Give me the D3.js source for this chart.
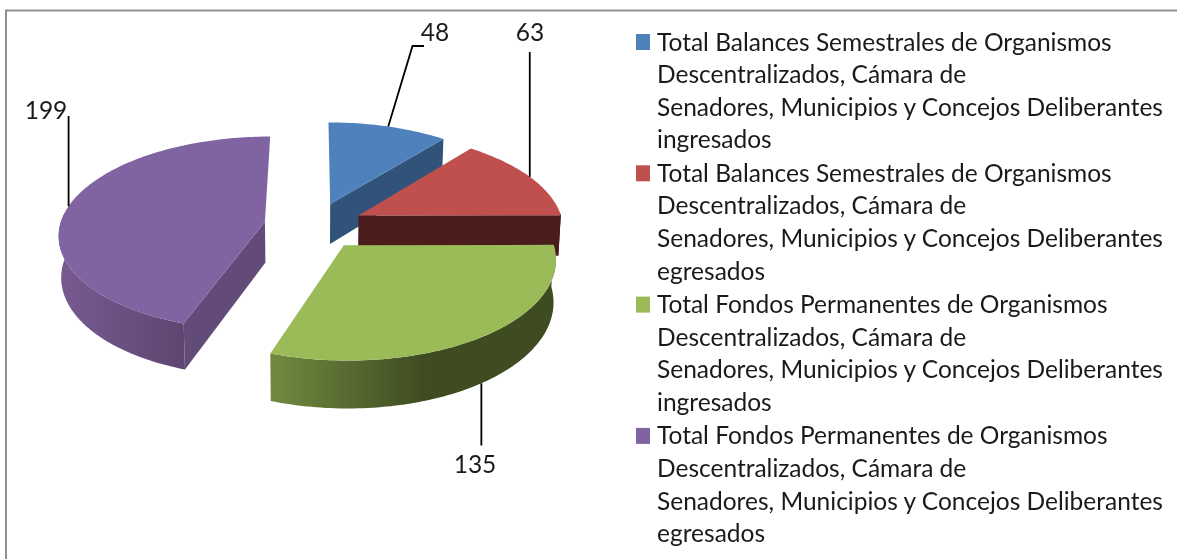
<!DOCTYPE html>
<html lang="es">
  <head>
    <meta charset="UTF-8" />
    <title>Balances y Fondos Permanentes</title>
    <script src="https://cdn.jsdelivr.net/npm/d3@7"></script>
    <style>
      html, body { margin: 0; padding: 0; background: #fff; overflow: hidden; }
      svg { filter: blur(0.4px); }
      text { font-family: Lato, "Open Sans", sans-serif; fill: #1a1a1a; }
    </style>
  </head>
  <body>
    <div id="chart"></div>
    <script>
      // datos
      const values = [48, 63, 135, 199];
      const legendLines = [
        ["Total Balances Semestrales de Organismos", "Descentralizados, Cámara de", "Senadores, Municipios y Concejos Deliberantes", "ingresados"],
        ["Total Balances Semestrales de Organismos", "Descentralizados, Cámara de", "Senadores, Municipios y Concejos Deliberantes", "egresados"],
        ["Total Fondos Permanentes de Organismos", "Descentralizados, Cámara de", "Senadores, Municipios y Concejos Deliberantes", "ingresados"],
        ["Total Fondos Permanentes de Organismos", "Descentralizados, Cámara de", "Senadores, Municipios y Concejos Deliberantes", "egresados"]
      ];
      const topColors = ["#4f81bd", "#c0504d", "#9bbb59", "#8064a2"];
      const cutColors = ["#31537a", "#4a1c1c", null, "#624b78"];

      const width = 1177, height = 559;
      const cx = 314, cy = 225.6;
      const radius = 205, explode = 50, depth = 41;
      const tilt = 0.47, focal = 1700;

      const svg = d3.select("#chart").append("svg")
        .attr("width", width)
        .attr("height", height);

      const defs = svg.append("defs");
      function addGradient(id, x1, x2, c1, c2) {
        const g = defs.append("linearGradient")
          .attr("id", id)
          .attr("gradientUnits", "userSpaceOnUse")
          .attr("x1", x1).attr("x2", x2).attr("y1", 0).attr("y2", 0);
        g.append("stop").attr("offset", 0).attr("stop-color", c1);
        g.append("stop").attr("offset", 1).attr("stop-color", c2);
      }
      addGradient("wall-green", 272, 425, "#6f8a40", "#3f4b21");
      addGradient("wall-purple", 70, 184, "#75598f", "#5d4670");
      const wallFills = [null, "#4a1c1c", "url(#wall-green)", "url(#wall-purple)"];

      // marco
      svg.append("rect")
        .attr("x", 6).attr("y", 10.5)
        .attr("width", 1300).attr("height", 600)
        .attr("fill", "#fff")
        .attr("stroke", "#8f8f8f")
        .attr("stroke-width", 2);

      const slices = d3.pie().sort(null).startAngle(0).endAngle(2 * Math.PI)(values);
      const line = d3.line();

      // plano de la torta -> pantalla, con algo de perspectiva
      function planePoint(d, a, r) {
        const mid = (d.startAngle + d.endAngle) / 2;
        return [
          explode * Math.sin(mid) + r * Math.sin(a),
          -explode * Math.cos(mid) - r * Math.cos(a)
        ];
      }
      function topPoint(d, a, r) {
        const [u, v] = planePoint(d, a, r);
        const p = 1 / (1 - v / focal);
        return [cx + u * p, cy + v * tilt * p];
      }
      function bottomPoint(d, a, r) {
        const [u, v] = planePoint(d, a, r);
        const p = 1 / (1 - v / focal);
        return [cx + u * p * 0.99, cy + v * tilt * p + depth * p];
      }
      function arcAngles(a0, a1) {
        const n = Math.max(2, Math.ceil((a1 - a0) / 0.02));
        return d3.range(n + 1).map(i => a0 + (a1 - a0) * i / n);
      }

      const slice = svg.append("g").selectAll("g")
        .data([0, 1, 3, 2].map(i => ({ d: slices[i], i: i })))
        .join("g");

      // cara del corte
      slice.filter(s => cutColors[s.i])
        .append("path")
        .attr("fill", s => cutColors[s.i])
        .attr("d", s => {
          const a = s.i === 3 ? s.d.startAngle : s.d.endAngle;
          return line([topPoint(s.d, a, 0), topPoint(s.d, a, radius), bottomPoint(s.d, a, radius), bottomPoint(s.d, a, 0)]) + "Z";
        });

      // pared curva del frente
      slice.filter(s => wallFills[s.i])
        .append("path")
        .attr("fill", s => wallFills[s.i])
        .attr("d", s => {
          const a0 = Math.max(s.d.startAngle, Math.PI * 0.49);
          const a1 = Math.min(s.d.endAngle, Math.PI * 1.53);
          const angles = arcAngles(a0, a1);
          return line(angles.map(a => topPoint(s.d, a, radius))
            .concat(angles.slice().reverse().map(a => bottomPoint(s.d, a, radius)))) + "Z";
        });

      // cara superior
      slice.append("path")
        .attr("fill", s => topColors[s.i])
        .attr("d", s => line([topPoint(s.d, s.d.startAngle, 0)]
          .concat(arcAngles(s.d.startAngle, s.d.endAngle).map(a => topPoint(s.d, a, radius)))) + "Z");

      // lineas guia y etiquetas
      const leaders = slices.map((d, i) => {
        const mid = (d.startAngle + d.endAngle) / 2;
        return i === 2 ? bottomPoint(d, mid, radius) : topPoint(d, mid, radius);
      });
      const leaderEnds = [[[412.5, 46], [424, 46]], [[null, 52]], [[null, 445.5]], [[null, 116]]];
      const labelPos = [[435, 32], [530, 32], [475, 464], [46, 110]];

      svg.append("g").selectAll("path")
        .data(slices)
        .join("path")
        .attr("fill", "none")
        .attr("stroke", "#000")
        .attr("stroke-width", 1.8)
        .attr("d", (d, i) => line([leaders[i]].concat(leaderEnds[i].map(p => [p[0] === null ? leaders[i][0] : p[0], p[1]]))));

      svg.append("g").selectAll("text")
        .data(values)
        .join("text")
        .attr("x", (d, i) => labelPos[i][0])
        .attr("y", (d, i) => labelPos[i][1])
        .attr("dy", "0.35em")
        .attr("text-anchor", "middle")
        .attr("font-size", 24.5)
        .text(d => d);

      // leyenda
      const legend = svg.append("g").selectAll("g")
        .data(legendLines)
        .join("g")
        .attr("transform", (d, i) => `translate(0,${42 + i * 131.3})`);

      legend.append("rect")
        .attr("x", 636).attr("y", -8)
        .attr("width", 14).attr("height", 16)
        .attr("fill", (d, i) => topColors[i]);

      legend.selectAll("text")
        .data(d => d)
        .join("text")
        .attr("x", 657)
        .attr("y", (d, j) => j * 32.6)
        .attr("dy", "0.35em")
        .attr("font-size", 24.5)
        .text(d => d);
    </script>
  </body>
</html>
